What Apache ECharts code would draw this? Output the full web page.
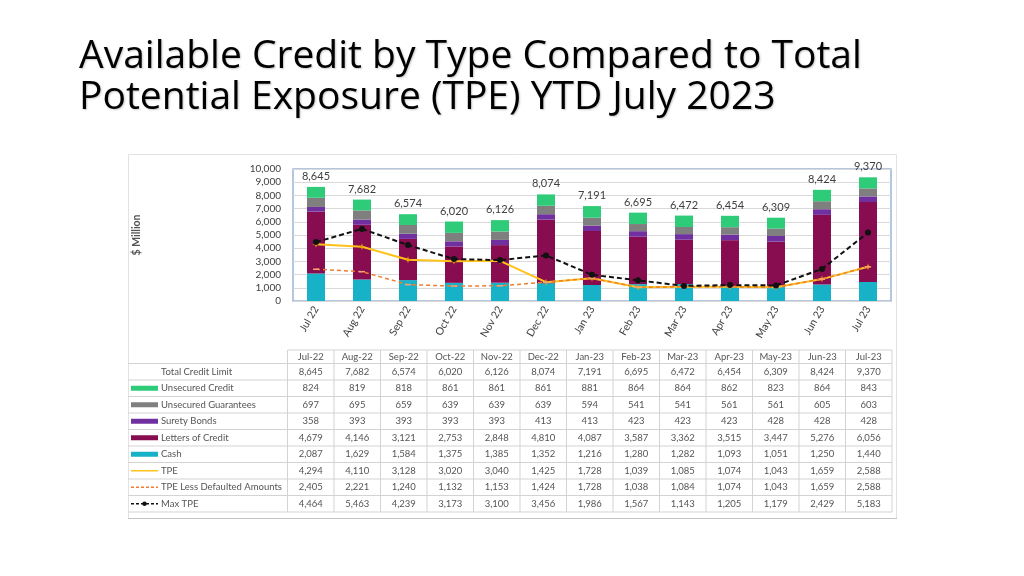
<!DOCTYPE html>
<html><head><meta charset="utf-8">
<script src="https://cdn.jsdelivr.net/npm/echarts/dist/echarts.min.js"></script>
<style>html,body{margin:0;padding:0;background:#fff}#c{width:1024px;height:576px}</style>
</head><body><div id="c"></div>
<script>
// ---- data ----
const categories = ['Jul 22','Aug 22','Sep 22','Oct 22','Nov 22','Dec 22','Jan 23','Feb 23','Mar 23','Apr 23','May 23','Jun 23','Jul 23'];
const tableHeaders = ['Jul-22','Aug-22','Sep-22','Oct-22','Nov-22','Dec-22','Jan-23','Feb-23','Mar-23','Apr-23','May-23','Jun-23','Jul-23'];
const totalCreditLimit = [8645,7682,6574,6020,6126,8074,7191,6695,6472,6454,6309,8424,9370];
const unsecuredCredit = [824,819,818,861,861,861,881,864,864,862,823,864,843];
const unsecuredGuarantees = [697,695,659,639,639,639,594,541,541,561,561,605,603];
const suretyBonds = [358,393,393,393,393,413,413,423,423,423,428,428,428];
const lettersOfCredit = [4679,4146,3121,2753,2848,4810,4087,3587,3362,3515,3447,5276,6056];
const cash = [2087,1629,1584,1375,1385,1352,1216,1280,1282,1093,1051,1250,1440];
const tpe = [4294,4110,3128,3020,3040,1425,1728,1039,1085,1074,1043,1659,2588];
const tpeLessDefaulted = [2405,2221,1240,1132,1153,1424,1728,1038,1084,1074,1043,1659,2588];
const maxTpe = [4464,5463,4239,3173,3100,3456,1986,1567,1143,1205,1179,2429,5183];
const yTicks = [0,1000,2000,3000,4000,5000,6000,7000,8000,9000,10000];
const titleText = 'Available Credit by Type Compared to Total\nPotential Exposure (TPE) YTD July 2023';
const yAxisName = '$ Million';

// ---- styles ----
const C = {
  cash:'#18b2c8', loc:'#870c50', surety:'#7030a0', ug:'#7f7f7f', uc:'#2ecb78',
  tpe:'#ffc21a', tpeLess:'#ed7d31', max:'#111111'
};
const FONT = 'Lato, "Open Sans", sans-serif';
const TFONT = '"Open Sans", Lato, sans-serif';
const fmt = v => Number(v).toLocaleString('en-US');

const starPath = 'path://M5,0 L6.2,3.8 L10,5 L6.2,6.2 L5,10 L3.8,6.2 L0,5 L3.8,3.8 Z';

// ---- table (built from the arrays) ----
const rows = [
  {name:'Total Credit Limit', data: totalCreditLimit, sw:null},
  {name:'Unsecured Credit', data: unsecuredCredit, sw:{type:'bar', color:C.uc}},
  {name:'Unsecured Guarantees', data: unsecuredGuarantees, sw:{type:'bar', color:C.ug}},
  {name:'Surety Bonds', data: suretyBonds, sw:{type:'bar', color:C.surety}},
  {name:'Letters of Credit', data: lettersOfCredit, sw:{type:'bar', color:C.loc}},
  {name:'Cash', data: cash, sw:{type:'bar', color:C.cash}},
  {name:'TPE', data: tpe, sw:{type:'line', color:C.tpe}},
  {name:'TPE Less Defaulted Amounts', data: tpeLessDefaulted, sw:{type:'dash', color:C.tpeLess}},
  {name:'Max TPE', data: maxTpe, sw:{type:'dashdot', color:C.max}}
];
const T = {left:128, colLeft:287.5, colW:46.5, headTop:350, headBottom:363.5, rowH:16.5};
const tableRight = T.colLeft + T.colW*tableHeaders.length;
const tableBottom = T.headBottom + T.rowH*rows.length;
const LINE = '#d3d3d3', TXT = '#555555';
const g = [];
// frame of the embedded picture
g.push({type:'rect', shape:{x:128.5,y:154.5,width:768,height:364}, style:{fill:'none', stroke:'#e2e2e2', lineWidth:1}, silent:true});
g.push({type:'line', shape:{x1:128,y1:518.5,x2:897,y2:518.5}, style:{stroke:'#c4c4c4', lineWidth:1.2}, silent:true});
// horizontal lines
g.push({type:'line', shape:{x1:T.colLeft,y1:T.headTop,x2:tableRight,y2:T.headTop}, style:{stroke:LINE,lineWidth:1}});
for (let i=0;i<=rows.length;i++){
  const y = T.headBottom + i*T.rowH;
  g.push({type:'line', shape:{x1:T.left,y1:y,x2:tableRight,y2:y}, style:{stroke:LINE,lineWidth:1}});
}
// vertical lines
for (let j=0;j<=tableHeaders.length;j++){
  const x = T.colLeft + j*T.colW;
  g.push({type:'line', shape:{x1:x,y1:T.headTop,x2:x,y2:tableBottom}, style:{stroke:LINE,lineWidth:1}});
}
// header text
tableHeaders.forEach((h,j)=>{
  g.push({type:'text', x:T.colLeft+(j+0.5)*T.colW, y:(T.headTop+T.headBottom)/2,
    style:{text:h, fill:TXT, font:'9.5px '+FONT, align:'center', verticalAlign:'middle'}});
});
rows.forEach((r,i)=>{
  const cy = T.headBottom + (i+0.5)*T.rowH;
  g.push({type:'text', x:161, y:cy, style:{text:r.name, fill:TXT, font:'9.5px '+FONT, align:'left', verticalAlign:'middle'}});
  r.data.forEach((v,j)=>{
    g.push({type:'text', x:T.colLeft+(j+0.5)*T.colW, y:cy,
      style:{text:fmt(v), fill:TXT, font:'9.5px '+FONT, align:'center', verticalAlign:'middle'}});
  });
  if (r.sw){
    if (r.sw.type==='bar'){
      g.push({type:'rect', shape:{x:131,y:cy-2.5,width:27,height:5}, style:{fill:r.sw.color}});
    } else if (r.sw.type==='line'){
      g.push({type:'line', shape:{x1:131,y1:cy,x2:158,y2:cy}, style:{stroke:r.sw.color,lineWidth:1.5}});
    } else if (r.sw.type==='dash'){
      g.push({type:'line', shape:{x1:131,y1:cy,x2:158,y2:cy}, style:{stroke:r.sw.color,lineWidth:1.5,lineDash:[3,2]}});
    } else {
      g.push({type:'line', shape:{x1:131,y1:cy,x2:158,y2:cy}, style:{stroke:r.sw.color,lineWidth:1.5,lineDash:[3,2]}});
      g.push({type:'circle', shape:{cx:144.5,cy:cy,r:2.2}, style:{fill:r.sw.color}});
    }
  }
});

const chart = echarts.init(document.getElementById('c'), null, {renderer:'canvas'});
chart.setOption({
  animation:false,
  backgroundColor:'#ffffff',
  textStyle:{fontFamily:FONT},
  title:{
    text:titleText, left:79, top:36, padding:0,
    textStyle:{fontFamily:TFONT, fontSize:39, fontWeight:'normal', color:'#000', lineHeight:41,
      textShadowColor:'rgba(0,0,0,0.22)', textShadowBlur:2, textShadowOffsetX:1, textShadowOffsetY:1}
  },
  grid:{show:true, left:293, top:169, width:598, height:132, borderColor:'#9db4d8', borderWidth:1.5, containLabel:false},
  xAxis:{
    type:'category', data:categories, boundaryGap:true,
    axisLine:{show:false}, axisTick:{show:false},
    axisLabel:{rotate:60, fontSize:10.5, color:'#404040', margin:6, interval:0, fontFamily:FONT}
  },
  yAxis:{
    type:'value', min:yTicks[0], max:yTicks[yTicks.length-1], interval:1000,
    name:yAxisName, nameLocation:'middle', nameRotate:90, nameGap:151,
    nameTextStyle:{fontSize:10.5, fontWeight:'bold', color:'#555', fontFamily:FONT},
    axisLine:{show:false}, axisTick:{show:false},
    axisLabel:{fontSize:10, color:'#404040', margin:12, formatter:v=>fmt(v), fontFamily:FONT},
    splitLine:{lineStyle:{color:'#d9d9d9', width:1}}
  },
  series:[
    {name:'Cash', type:'bar', stack:'t', barWidth:18, data:cash, itemStyle:{color:C.cash}},
    {name:'Letters of Credit', type:'bar', stack:'t', data:lettersOfCredit, itemStyle:{color:C.loc}},
    {name:'Surety Bonds', type:'bar', stack:'t', data:suretyBonds, itemStyle:{color:C.surety}},
    {name:'Unsecured Guarantees', type:'bar', stack:'t', data:unsecuredGuarantees, itemStyle:{color:C.ug}},
    {name:'Unsecured Credit', type:'bar', stack:'t', data:unsecuredCredit, itemStyle:{color:C.uc},
      label:{show:true, position:'top', distance:5, fontSize:11, color:'#404040', fontFamily:FONT,
        formatter:p=>fmt(totalCreditLimit[p.dataIndex])}},
    {name:'TPE', type:'line', data:tpe, z:5, symbol:starPath, symbolSize:7,
      lineStyle:{color:C.tpe, width:2}, itemStyle:{color:'#f0a500'}},
    {name:'TPE Less Defaulted Amounts', type:'line', data:tpeLessDefaulted, z:6, symbol:'rect', symbolSize:[6,1.5],
      lineStyle:{color:C.tpeLess, width:1.5, type:[4,3]}, itemStyle:{color:'#f4a37a'}},
    {name:'Max TPE', type:'line', data:maxTpe, z:7, symbol:'circle', symbolSize:6,
      lineStyle:{color:C.max, width:2, type:[5,3]}, itemStyle:{color:C.max}}
  ],
  graphic:g
});
</script></body></html>
